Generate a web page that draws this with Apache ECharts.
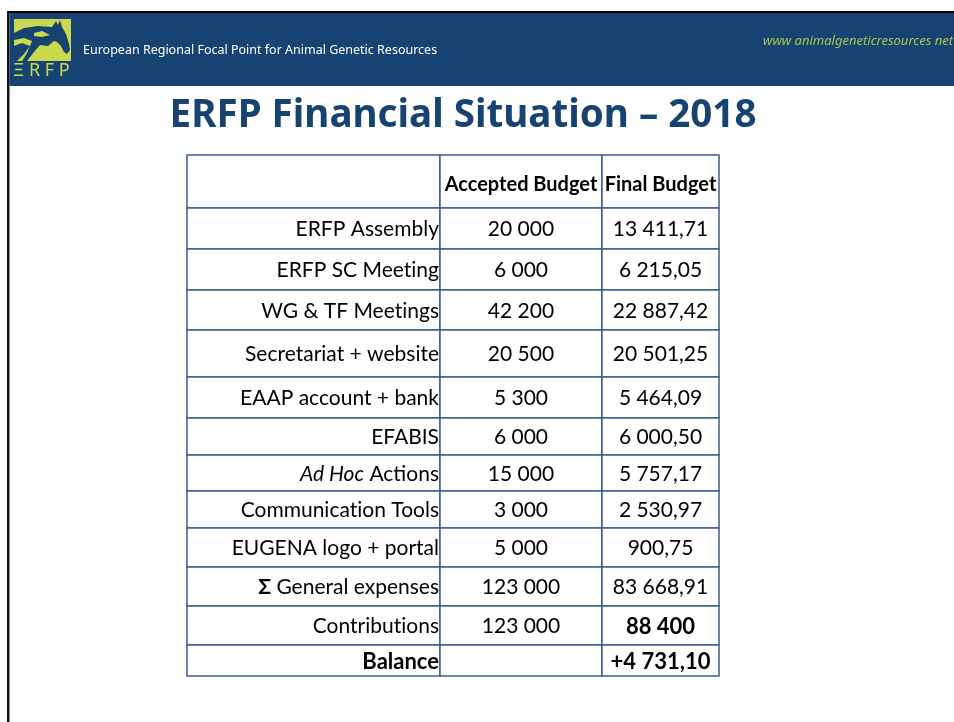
<!DOCTYPE html>
<html>
<head>
<meta charset="utf-8">
<script src="https://cdn.jsdelivr.net/npm/echarts@6/dist/echarts.min.js"></script>
<style>
  html, body { margin: 0; padding: 0; background: #fff; }
  #main { width: 954px; height: 722px; }
</style>
</head>
<body>
<div id="main"></div>
<script>
// table content
const columnHeaders = ['', 'Accepted Budget', 'Final Budget'];
const items = ['ERFP Assembly', 'ERFP SC Meeting', 'WG & TF Meetings', 'Secretariat + website',
  'EAAP account + bank', 'EFABIS', 'Ad Hoc Actions', 'Communication Tools',
  'EUGENA logo + portal', 'Σ General expenses', 'Contributions', 'Balance'];
const acceptedBudget = ['20 000', '6 000', '42 200', '20 500', '5 300', '6 000', '15 000',
  '3 000', '5 000', '123 000', '123 000', ''];
const finalBudget = ['13 411,71', '6 215,05', '22 887,42', '20 501,25', '5 464,09', '6 000,50',
  '5 757,17', '2 530,97', '900,75', '83 668,91', '88 400', '+4 731,10'];

// table geometry (axis units = px inside the table)
const colEdges = [0, 253, 415, 532];
const rowEdges = [0, 53, 94, 135, 175, 222, 263, 300, 336, 373, 412, 451, 490, 521];

const NAVY = '#174372';
const LIME = '#c9da4f';
const LINE = '#3b5f8e';
const FONT = 'Lato, "Noto Sans", sans-serif';

// cells: [col, row, text]
const cells = [];
columnHeaders.forEach((h, c) => cells.push([c, 0, h]));
items.forEach((name, i) => {
  cells.push([0, i + 1, name]);
  cells.push([1, i + 1, acceptedBudget[i]]);
  cells.push([2, i + 1, finalBudget[i]]);
});

// break Lato's "ti" ligature so the words look like the slide
const noLig = s => s.replace(/ti/g, 't\u200Ci');

function cellText(c, r, t) {
  if (t === '') return '';
  if (r === 0) return '{h|' + t + '}';
  const name = items[r - 1];
  if (name === 'Balance') return '{b|' + t + '}';
  if (c === 2 && name === 'Contributions') return '{b|' + t + '}';
  if (c === 0 && t.indexOf('Σ') === 0) return '{s|Σ}{n|' + t.slice(1) + '}';
  if (c === 0 && t.indexOf('Ad Hoc') === 0) return '{i|Ad Hoc}{n|' + t.slice(6) + '}';
  return '{n|' + noLig(t) + '}';
}

function renderCell(params, api) {
  const c = api.value(0), r = api.value(1);
  const t = cells[params.dataIndex][2];
  const p0 = api.coord([colEdges[c], rowEdges[r]]);
  const p1 = api.coord([colEdges[c + 1], rowEdges[r + 1]]);
  const x = p0[0], y = p0[1], w = p1[0] - p0[0], h = p1[1] - p0[1];
  const tx = c === 0 ? x + w - 1 : x + w / 2;
  const ty = r === 0 ? y + h / 2 + 3 : y + h / 2 + 1;
  return {
    type: 'group',
    children: [
      { type: 'rect', shape: { x, y, width: w, height: h },
        style: { fill: '#fff', stroke: LINE, lineWidth: 1.5 } },
      { type: 'text', x: tx, y: ty,
        style: {
          text: cellText(c, r, t),
          align: c === 0 ? 'right' : 'center',
          verticalAlign: 'middle',
          rich: {
            h: { fontFamily: FONT, fontSize: 20, fontWeight: 'bold', color: '#111' },
            n: { fontFamily: FONT, fontSize: 21, color: '#111' },
            s: { fontFamily: FONT, fontSize: 21, fontWeight: 'bold', color: '#111' },
            b: { fontFamily: FONT, fontSize: 22, fontWeight: 'bold', color: '#111' },
            i: { fontFamily: FONT, fontSize: 21, fontStyle: 'italic', color: '#111' }
          }
        } }
    ]
  };
}

const chart = echarts.init(document.getElementById('main'), null, { renderer: 'canvas' });

chart.setOption({
  backgroundColor: '#fff',
  animation: false,
  grid: { left: 187, top: 155, width: 532, height: 521 },
  xAxis: { type: 'value', min: 0, max: 532, show: false },
  yAxis: { type: 'value', min: 0, max: 521, inverse: true, show: false },
  graphic: [
    // slide frame
    { type: 'rect', shape: { x: 8, y: 11, width: 946, height: 2 }, style: { fill: '#000' } },
    { type: 'rect', shape: { x: 7, y: 11, width: 2.5, height: 711 }, style: { fill: '#111' } },
    // header band
    { type: 'rect', shape: { x: 9.5, y: 13, width: 945, height: 73 }, style: { fill: NAVY } },
    // logo
    { type: 'rect', shape: { x: 14, y: 19, width: 57, height: 42 }, style: { fill: LIME } },
    { type: 'polygon', shape: { points: [[14, 33], [24, 28], [38, 26], [52, 27], [56, 21], [58, 25], [60, 20],
        [62, 27], [66, 34], [69, 44], [70, 50], [67, 54], [64, 52], [61, 46], [57, 42], [54, 41],
        [48, 46], [40, 45], [34, 52], [27, 61], [22, 61], [27, 53], [32, 41], [24, 38], [14, 40]] },
      style: { fill: NAVY } },
    { type: 'polygon', shape: { points: [[14, 46], [22, 43], [30, 46], [24, 54], [17, 61], [14, 61]] },
      style: { fill: NAVY } },
    { type: 'polygon', shape: { points: [[34, 33], [42, 31], [50, 35], [42, 37], [34, 36]] },
      style: { fill: LIME } },
    { type: 'text', x: 13, y: 62, style: { text: 'Ξ R F P', fill: LIME, font: '18px "Noto Sans", sans-serif', textAlign: 'left' } },
    { type: 'text', x: 83, y: 44, style: { text: 'European Regional Focal Point for Animal Genetic Resources',
        fill: '#fff', font: '12.5px "Noto Sans", sans-serif' } },
    { type: 'text', x: 953, y: 35, style: { text: 'www animalgeneticresources net',
        fill: '#a7c64a', font: 'italic 13px "Noto Sans", sans-serif', textAlign: 'right' } },
    // title
    { type: 'text', x: 463, y: 116, style: { text: 'ERFP Financial Situation – 2018',
        fill: NAVY, font: 'bold 38.6px "Noto Sans", sans-serif', textAlign: 'center', textVerticalAlign: 'middle' } }
  ],
  series: [{
    type: 'custom',
    coordinateSystem: 'cartesian2d',
    renderItem: renderCell,
    data: cells.map(d => [d[0], d[1]]),
    silent: true
  }]
});
</script>
</body>
</html>
